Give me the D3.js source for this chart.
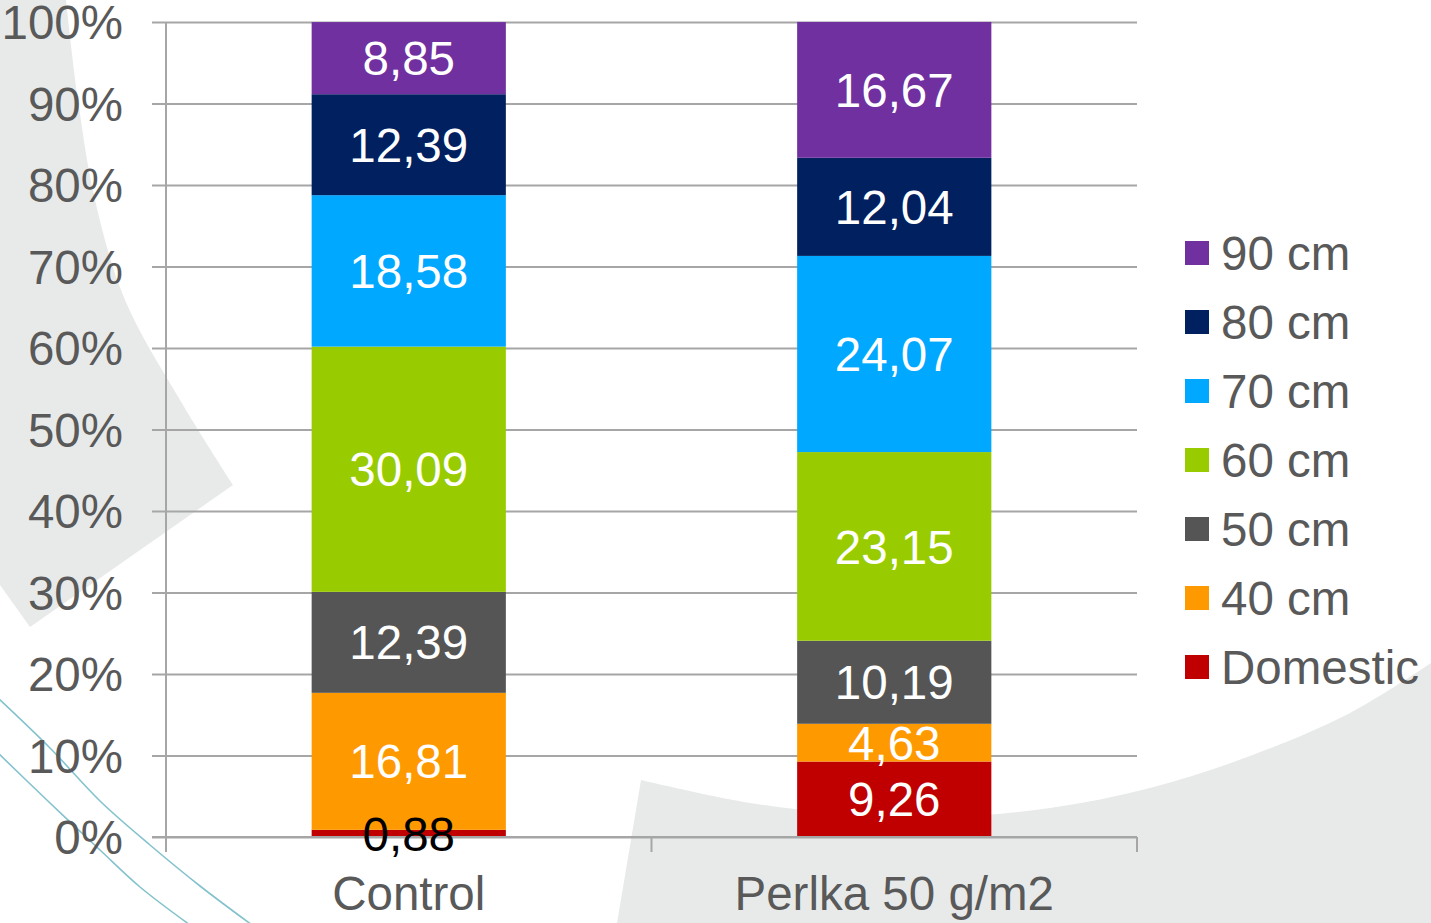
<!DOCTYPE html>
<html>
<head>
<meta charset="utf-8">
<script src="https://cdn.jsdelivr.net/npm/d3@7"></script>
<style>
  html, body { margin: 0; padding: 0; background: #ffffff; }
  svg { display: block; }
  text { font-family: "Liberation Sans", Arial, sans-serif; }
</style>
</head>
<body>
<svg id="chart" width="1431" height="923"></svg>
<script>
// ---- data ----
const categories = ["Control", "Perlka 50 g/m2"];
const seriesNames = ["Domestic", "40 cm", "50 cm", "60 cm", "70 cm", "80 cm", "90 cm"];
const seriesColors = ["#C00000", "#FF9900", "#555555", "#99CC00", "#00A8FF", "#002060", "#7030A0"];
const controlValues = [0.88, 16.81, 12.39, 30.09, 18.58, 12.39, 8.85];
const perlkaValues = [9.26, 4.63, 10.19, 23.15, 24.07, 12.04, 16.67];
const controlLabelColors = ["#000000", "#ffffff", "#ffffff", "#ffffff", "#ffffff", "#ffffff", "#ffffff"];
const perlkaLabelColors = ["#ffffff", "#ffffff", "#ffffff", "#ffffff", "#ffffff", "#ffffff", "#ffffff"];
const yTicks = [0, 10, 20, 30, 40, 50, 60, 70, 80, 90, 100];

const svg = d3.select("#chart");
const m = { left: 166, right: 1137, top: 22, bottom: 837 };
const FS = 47.5;

// ---- background decorations ----
const bg = svg.append("g");
const curve = d3.line().curve(d3.curveCatmullRom);
const leftEdge = [[0,0],[66,0],[78,100],[95,200],[125,300],[180,400],[233,485]];
bg.append("path")
  .attr("d", d3.line()(leftEdge.slice(0, 2)) + curve(leftEdge.slice(1)).replace(/^M/, "L") + "L30,627L0,585Z")
  .attr("fill", "#E8EAEA");
bg.append("path")
  .attr("d", curve([[641,780],[750,803],[850,814],[950,817],[1050,808],[1150,788],[1250,756],[1350,713],[1431,663]]) + " L1431,923 L617,923 Z")
  .attr("fill", "#E8EAEA");
bg.append("path")
  .attr("d", curve([[-2,698],[50,748],[100,801],[150,845],[200,886],[252,925]]))
  .attr("fill", "none").attr("stroke", "#84C2CD").attr("stroke-width", 1.6);
bg.append("path")
  .attr("d", curve([[-2,753],[50,803],[100,850],[140,887],[190,925]]))
  .attr("fill", "none").attr("stroke", "#84C2CD").attr("stroke-width", 1.6);

// ---- scales ----
const x = d3.scaleBand().domain(categories).range([m.left, m.right]).paddingInner(0.6).paddingOuter(0.3);
const y = d3.scaleLinear().domain([0, 100]).range([m.bottom, m.top]);

const axisColor = "#A6A6A6";
const textColor = "#595959";

// gridlines + y ticks
const yAxis = d3.axisLeft(y).tickValues(yTicks).tickSize(0).tickFormat(d => d + "%");
const gy = svg.append("g").attr("transform", `translate(${m.left},0)`).call(yAxis);
gy.select(".domain").remove();
gy.selectAll(".tick line").remove();
gy.selectAll(".tick").append("line")
  .attr("x1", -14).attr("x2", m.right - m.left)
  .attr("stroke", axisColor).attr("stroke-width", 2);
gy.selectAll(".tick text")
  .attr("x", -43).attr("dy", "0.35em")
  .attr("fill", textColor).attr("font-size", FS)
  .attr("font-family", "'Liberation Sans', Arial, sans-serif");

// y axis line
svg.append("line")
  .attr("x1", m.left).attr("x2", m.left).attr("y1", m.top).attr("y2", m.bottom + 15)
  .attr("stroke", axisColor).attr("stroke-width", 2);

// x axis category boundary ticks
const gap = x.step() - x.bandwidth();
const boundaries = categories.map(c => x(c) - gap / 2).concat([m.right]);
svg.selectAll(".xtick").data(boundaries).join("line")
  .attr("x1", d => d).attr("x2", d => d)
  .attr("y1", m.bottom).attr("y2", m.bottom + 15)
  .attr("stroke", axisColor).attr("stroke-width", 2);

// ---- stacked bars ----
const rows = categories.map((c, i) => {
  const vals = i === 0 ? controlValues : perlkaValues;
  const r = { category: c, idx: i };
  seriesNames.forEach((s, j) => r[s] = vals[j]);
  return r;
});
const stacked = d3.stack().keys(seriesNames)(rows);

const layers = svg.selectAll(".layer").data(stacked).join("g")
  .attr("fill", (d, i) => seriesColors[i]);
layers.selectAll("rect").data(d => d).join("rect")
  .attr("x", d => x(d.data.category))
  .attr("width", x.bandwidth())
  .attr("y", d => y(d[1]))
  .attr("height", d => y(d[0]) - y(d[1]));

// zero line on top of bars
svg.append("line")
  .attr("x1", m.left - 14).attr("x2", m.right).attr("y1", m.bottom).attr("y2", m.bottom)
  .attr("stroke", axisColor).attr("stroke-width", 2);

// data labels
stacked.forEach((layer, i) => {
  svg.selectAll(".lbl" + i).data(layer).join("text")
    .attr("x", d => x(d.data.category) + x.bandwidth() / 2)
    .attr("y", d => (y(d[0]) + y(d[1])) / 2)
    .attr("dy", "0.36em")
    .attr("text-anchor", "middle")
    .attr("font-size", FS)
    .attr("fill", d => (d.data.idx === 0 ? controlLabelColors : perlkaLabelColors)[i])
    .text(d => String((d[1] - d[0]).toFixed(2)).replace(".", ","));
});

// category labels
svg.selectAll(".cat").data(categories).join("text")
  .attr("x", d => x(d) + x.bandwidth() / 2)
  .attr("y", 910)
  .attr("text-anchor", "middle")
  .attr("font-size", FS)
  .attr("fill", textColor)
  .text(d => d);

// ---- legend ----
const legendOrder = seriesNames.map((s, i) => i).reverse();
const lg = svg.append("g");
const legendItems = lg.selectAll("g").data(legendOrder).join("g")
  .attr("transform", (d, k) => `translate(1185, ${253 + k * 69})`);
legendItems.append("rect")
  .attr("x", 0).attr("y", -12).attr("width", 24).attr("height", 24)
  .attr("fill", d => seriesColors[d]);
legendItems.append("text")
  .attr("x", 36).attr("dy", "0.35em")
  .attr("font-size", FS).attr("fill", textColor)
  .text(d => seriesNames[d]);
</script>
</body>
</html>
